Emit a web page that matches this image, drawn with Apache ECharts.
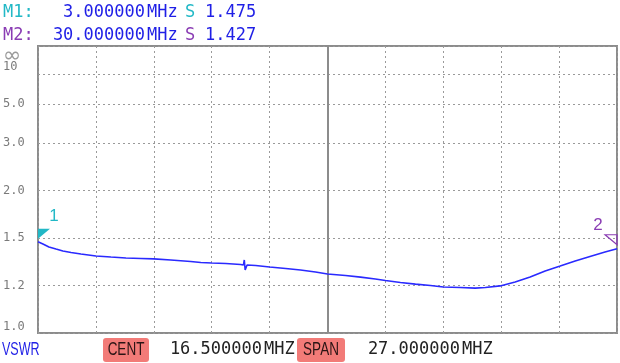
<!DOCTYPE html>
<html>
<head>
<meta charset="utf-8">
<script src="https://cdn.jsdelivr.net/npm/echarts@6/dist/echarts.min.js"></script>
<style>html,body{margin:0;padding:0;background:#fff}#c{width:620px;height:363px}</style>
</head>
<body>
<div id="c"></div>
<script>
// ---- data ----
const freqMHz = [3.0, 3.23, 3.51, 3.84, 4.16, 4.54, 5.0, 5.7, 6.4, 7.1, 7.8, 8.4, 9.19, 10.12, 10.59, 11.1, 11.75, 12.45, 12.58, 12.62, 12.66, 12.75, 13.15, 13.8, 14.55, 15.24, 15.94, 16.5, 17.34, 18.04, 18.73, 19.2, 19.9, 20.6, 21.3, 21.9, 22.69, 23.39, 23.86, 24.55, 25.25, 25.95, 26.65, 27.35, 28.05, 28.74, 29.44, 30.0];
const vswr = [1.475, 1.460, 1.439, 1.425, 1.412, 1.402, 1.392, 1.379, 1.372, 1.366, 1.363, 1.360, 1.353, 1.344, 1.337, 1.334, 1.331, 1.325, 1.322, 1.353, 1.291, 1.322, 1.319, 1.309, 1.300, 1.291, 1.279, 1.267, 1.258, 1.249, 1.238, 1.229, 1.218, 1.209, 1.201, 1.194, 1.192, 1.189, 1.192, 1.199, 1.221, 1.249, 1.285, 1.315, 1.347, 1.376, 1.405, 1.427];
const markerNames = ['M1', 'M2'];
const markerLabels = ['1', '2'];
const markerFreqMHz = [3.0, 30.0];
const markerVSWR = [1.475, 1.427];
const startMHz = 3.0, stopMHz = 30.0;
const yTickVSWR = [1.0, 1.2, 1.5, 2.0, 3.0, 5.0, 10, Infinity];
const yTickLabels = ['1.0', '1.2', '1.5', '2.0', '3.0', '5.0', '10', '\u221E'];
// display scale (fraction of graticule height) at each tick
const yTickFrac = [0, 0.1648, 0.3300, 0.4958, 0.6610, 0.7969, 0.9014, 1];
const xDivisions = 10;

// ---- scale helpers ----
function gamma(s) { return s === Infinity ? 1 : (s - 1) / (s + 1); }
const yTickG = yTickVSWR.map(gamma);
function vswrToAxis(s) {
  const g = gamma(s);
  for (let i = 0; i < yTickG.length - 1; i++) {
    if (g <= yTickG[i + 1]) {
      const t = (g - yTickG[i]) / (yTickG[i + 1] - yTickG[i]);
      return yTickFrac[i] + t * (yTickFrac[i + 1] - yTickFrac[i]);
    }
  }
  return 1;
}
function labelFor(v) {
  let idx = 0, best = 1e9;
  yTickFrac.forEach((f, i) => { if (Math.abs(f - v) < best) { best = Math.abs(f - v); idx = i; } });
  return idx;
}

// ---- styles ----
const traceColor = '#2a2aff';
const textBlue = '#1f1fe6';
const markerColors = ['#22b8c6', '#8a3cb4'];
const gridGray = '#9a9a9a';
const frameGray = '#8c8c8c';
const mono = '"DejaVu Sans Mono", "Liberation Mono", monospace';
const sans = '"Liberation Sans", Arial, sans-serif';
const centerMHz = (startMHz + stopMHz) / 2;
const spanMHz = stopMHz - startMHz;

const chart = echarts.init(document.getElementById('c'), null, {renderer: 'canvas'});

const richLabel = {
  n: {color: '#7a7a7a', fontFamily: mono, fontSize: 12},
  inf: {color: '#9a9a9a', fontFamily: '"DejaVu Sans", sans-serif', fontSize: 22, lineHeight: 8, padding: [20, 0, 0, 0]},
  ten: {color: '#7a7a7a', fontFamily: mono, fontSize: 12, lineHeight: 8, padding: [0, 0, 15, 0]},
  one: {color: '#7a7a7a', fontFamily: mono, fontSize: 12, padding: [0, 0, 12, 0]}
};

const va = {textVerticalAlign: 'middle', verticalAlign: 'middle'};
const header = [];
markerNames.forEach((nm, i) => {
  const y = 13 + i * 22.5;
  const c = markerColors[i];
  header.push({type: 'text', x: 3, y: y, style: Object.assign({text: nm + ':', fill: c, font: '17px ' + mono, textAlign: 'left'}, va)});
  header.push({type: 'text', x: 145, y: y, style: Object.assign({text: markerFreqMHz[i].toFixed(6), fill: textBlue, font: '17px ' + mono, textAlign: 'right'}, va)});
  header.push({type: 'text', x: 147, y: y, style: Object.assign({text: 'MHz', fill: textBlue, font: '17px ' + mono, textAlign: 'left'}, va)});
  header.push({type: 'text', x: 185, y: y, style: Object.assign({text: 'S', fill: c, font: '17px ' + mono, textAlign: 'left'}, va)});
  header.push({type: 'text', x: 205, y: y, style: Object.assign({text: markerVSWR[i].toFixed(3), fill: textBlue, font: '17px ' + mono, textAlign: 'left'}, va)});
});

const footer = [
  {type: 'text', x: 2, y: 350, scaleX: 0.66, style: Object.assign({text: 'VSWR', fill: textBlue, font: '19px ' + sans, textAlign: 'left'}, va)},
  {type: 'rect', shape: {x: 103, y: 338, width: 46, height: 24, r: 3}, style: {fill: '#f27b78'}},
  {type: 'text', x: 126, y: 350, scaleX: 0.75, style: Object.assign({text: 'CENT', fill: '#2a1414', font: '18px ' + sans, textAlign: 'center'}, va)},
  {type: 'text', x: 262, y: 350, style: Object.assign({text: centerMHz.toFixed(6), fill: '#222', font: '17px ' + mono, textAlign: 'right'}, va)},
  {type: 'text', x: 264, y: 350, style: Object.assign({text: 'MHZ', fill: '#222', font: '17px ' + mono, textAlign: 'left'}, va)},
  {type: 'rect', shape: {x: 297, y: 338, width: 48, height: 24, r: 3}, style: {fill: '#f27b78'}},
  {type: 'text', x: 321, y: 350, scaleX: 0.75, style: Object.assign({text: 'SPAN', fill: '#2a1414', font: '18px ' + sans, textAlign: 'center'}, va)},
  {type: 'text', x: 460, y: 350, style: Object.assign({text: spanMHz.toFixed(6), fill: '#222', font: '17px ' + mono, textAlign: 'right'}, va)},
  {type: 'text', x: 462, y: 350, style: Object.assign({text: 'MHZ', fill: '#222', font: '17px ' + mono, textAlign: 'left'}, va)}
];

const markPts = [
  {
    coord: [markerFreqMHz[0], vswrToAxis(markerVSWR[0])],
    symbol: 'path://M0,0 L12,0 L0,10 Z', symbolSize: [12, 10], symbolOffset: [6, -8],
    itemStyle: {color: markerColors[0]},
    label: {show: true, formatter: markerLabels[0], position: 'inside', offset: [10, -17], color: markerColors[0], fontSize: 17, fontFamily: sans}
  },
  {
    coord: [markerFreqMHz[1], vswrToAxis(markerVSWR[1])],
    symbol: 'path://M0,0 L12,0 L12,10 Z', symbolSize: [12, 10], symbolOffset: [-6, -9],
    itemStyle: {color: 'rgba(0,0,0,0)', borderColor: markerColors[1], borderWidth: 1.2},
    label: {show: true, formatter: markerLabels[1], position: 'inside', offset: [-13, -14], color: markerColors[1], fontSize: 17, fontFamily: sans}
  }
];

function styledLabel(v) {
  const idx = labelFor(v);
  const t = yTickLabels[idx];
  if (idx === yTickLabels.length - 1) return '{inf|' + t + '}';
  if (idx === yTickLabels.length - 2) return '{ten|' + t + '}';
  if (idx === 0) return '{one|' + t + '}';
  return '{n|' + t + '}';
}

const option = {
  animation: false,
  backgroundColor: '#fff',
  grid: {left: 37, right: 3, top: 46, bottom: 30, show: true, borderColor: frameGray, borderWidth: 2, backgroundColor: 'transparent'},
  xAxis: [
    {type: 'value', min: 0, max: xDivisions, interval: 1,
     axisLine: {show: false}, axisTick: {show: false}, axisLabel: {show: false},
     splitLine: {show: true, lineStyle: {color: gridGray, width: 1, type: [2, 3]}}},
    {type: 'value', min: startMHz, max: stopMHz, show: false, splitLine: {show: false}}
  ],
  yAxis: [
    {
      type: 'value', min: 0, max: 1, position: 'left', offset: 0,
      axisLine: {show: false},
      axisTick: {show: false, customValues: yTickFrac},
      axisLabel: {
        show: true, customValues: yTickFrac.slice(0, -1), align: 'left', margin: 35,
        showMinLabel: true, showMaxLabel: true, hideOverlap: false,
        formatter: styledLabel, rich: richLabel
      },
      splitLine: {show: true, lineStyle: {color: gridGray, width: 1, type: [2, 3]}}
    },
    {
      type: 'value', min: 0, max: 1, position: 'left', offset: 0,
      axisLine: {show: false},
      axisTick: {show: false, customValues: yTickFrac.slice(-1)},
      axisLabel: {
        show: true, customValues: yTickFrac.slice(-1), align: 'left', margin: 35,
        showMinLabel: true, showMaxLabel: true,
        formatter: styledLabel, rich: richLabel
      },
      splitLine: {show: false}
    }
  ],
  series: [{
    type: 'line',
    xAxisIndex: 1,
    yAxisIndex: 0,
    data: freqMHz.map((f, i) => [f, vswrToAxis(vswr[i])]),
    showSymbol: false,
    lineStyle: {color: traceColor, width: 1.6},
    itemStyle: {color: traceColor},
    z: 5,
    markLine: {
      silent: true, symbol: 'none', label: {show: false},
      lineStyle: {color: frameGray, width: 2, type: 'solid'},
      data: [{xAxis: centerMHz}]
    },
    markPoint: {silent: true, data: markPts}
  }],
  graphic: header.concat(footer)
};
chart.setOption(option);
</script>
</body>
</html>
